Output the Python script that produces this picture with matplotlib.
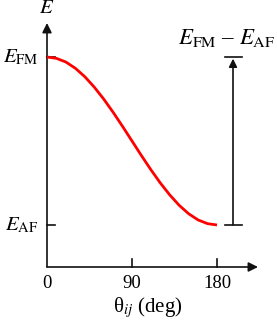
import matplotlib
matplotlib.use('Agg')
import matplotlib.pyplot as plt
from matplotlib.patches import FancyArrowPatch

plt.rcParams['font.family'] = ['Liberation Serif', 'DejaVu Serif']
plt.rcParams['mathtext.fontset'] = 'stix'

# energy vs angle, normalised so E_AF = 0 and E_FM = 1
theta = [0, 10, 20, 30, 40, 50, 60, 70, 80, 90,
         100, 110, 120, 130, 140, 150, 160, 170, 180]
energy = [1.0, 0.992, 0.970, 0.933, 0.883, 0.821, 0.75, 0.671, 0.587, 0.5,
          0.413, 0.329, 0.25, 0.179, 0.117, 0.067, 0.030, 0.008, 0.0]
x_ticks = [0, 90, 180]
x_tick_labels = ['0', '90', '180']
level_values = [1.0, 0.0]
level_labels = [r'$E_{\mathrm{FM}}$', r'$E_{\mathrm{AF}}$']

BLACK = '#111111'
RED = '#ff0000'
FS = 13

fig = plt.figure(figsize=(2.77, 3.21), dpi=100)
ax = fig.add_axes([0, 0, 1, 1])
# map pixels: theta 0 -> px 47, 90 deg per 85 px; E 1 -> px 57, 0 -> px 225
ax.set_xlim(-47 * 90 / 85, (277 - 47) * 90 / 85)
ax.set_ylim(-(321 - 225) / 168, 225 / 168)
ax.axis('off')

y_bottom = -(267 - 225) / 168
y_top = (225 - 23) / 168
x_right = (258 - 47) * 90 / 85

# axes with arrow heads
ax.add_patch(FancyArrowPatch((0, y_bottom), (0, y_top), arrowstyle='-|>',
                             mutation_scale=14, lw=1.2, color=BLACK,
                             shrinkA=0, shrinkB=0))
ax.add_patch(FancyArrowPatch((0, y_bottom), (x_right, y_bottom), arrowstyle='-|>',
                             mutation_scale=14, lw=1.2, color=BLACK,
                             shrinkA=0, shrinkB=0))

tick_dx = 8 * 90 / 85
tick_dy = 8 / 168
for xt, lab in zip(x_ticks, x_tick_labels):
    if xt != 0:
        ax.plot([xt, xt], [y_bottom, y_bottom + tick_dy], color=BLACK, lw=1.2)
    ax.text(xt, y_bottom - 0.05, lab, ha='center', va='top', fontsize=FS + 0.5)
for yv, lab in zip(level_values, level_labels):
    ax.plot([0, tick_dx], [yv, yv], color=BLACK, lw=1.2)
    ax.text(-9, yv, lab, ha='right', va='center', fontsize=FS + 2)

ax.text(0, y_top + 0.03, r'$E$', ha='center', va='bottom', fontsize=FS + 2)
ax.text(107, y_bottom - 0.165, r'θ$_{ij}$ (deg)', ha='center', va='top', fontsize=FS + 2)

# curve
ax.plot(theta, energy, color=RED, lw=2.0, solid_capstyle='butt',
        solid_joinstyle='round')

# energy difference bracket
xb = (233 - 47) * 90 / 85
half = 8.5 * 90 / 85
ax.plot([xb - half, xb + half], [1, 1], color=BLACK, lw=1.2)
ax.plot([xb - half, xb + half], [0, 0], color=BLACK, lw=1.2)
ax.add_patch(FancyArrowPatch((xb, 0), (xb, 1 - 0.01), arrowstyle='-|>',
                             mutation_scale=12, lw=1.2, color=BLACK,
                             shrinkA=0, shrinkB=0))
ax.text(xb - 7, 1.115, r'$E_{\mathrm{FM}}$ – $E_{\mathrm{AF}}$', ha='center',
        va='center', fontsize=FS + 3.5)

fig.savefig('out.png', dpi=100)
